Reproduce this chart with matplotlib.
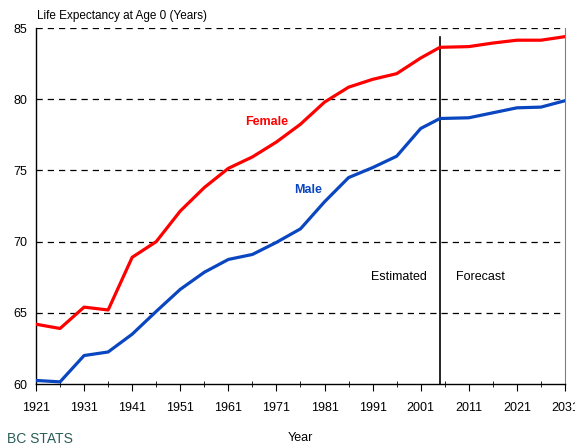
import numpy as np
import matplotlib.pyplot as plt

plt.rcParams['font.family'] = ['Liberation Sans', 'DejaVu Sans']

# Data
years = [1921, 1926, 1931, 1936, 1941, 1946, 1951, 1956, 1961, 1966, 1971, 1976,
         1981, 1986, 1991, 1996, 2001, 2005, 2011, 2016, 2021, 2026, 2031]
female = [64.2, 63.9, 65.4, 65.2, 68.9, 70.0, 72.15, 73.8, 75.15, 75.95, 77.0, 78.25,
          79.8, 80.85, 81.4, 81.8, 82.9, 83.65, 83.7, 83.95, 84.15, 84.15, 84.4]
male = [60.25, 60.15, 62.0, 62.25, 63.5, 65.1, 66.65, 67.85, 68.75, 69.1, 69.95, 70.9,
        72.8, 74.5, 75.2, 76.0, 77.95, 78.65, 78.7, 79.05, 79.4, 79.45, 79.9]
split_year = 2005
major_years = np.arange(1921, 2032, 10)
minor_years = np.arange(1926, 2032, 10)

fig = plt.figure(figsize=(5.75, 4.46), dpi=100)
ax = fig.add_axes([0.0626, 0.139, 0.92, 0.798])

for y in [65, 70, 75, 80, 85]:
    ax.axhline(y, color='black', lw=0.9, ls=(0, (5, 4)), zorder=1)

ax.plot(years, female, color='#ff0000', lw=2.3, zorder=3)
ax.plot(years, male, color='#0a46c0', lw=2.3, zorder=3)
ax.axvline(split_year, ymin=0, ymax=0.975, color='black', lw=1.2, zorder=2)

ax.text(1969, 78.4, 'Female', color='#ff0000', fontsize=9, fontweight='bold', ha='center', va='center')
ax.text(1977.5, 73.6, 'Male', color='#0a46c0', fontsize=9, fontweight='bold', ha='center', va='center')
ax.text(2002.3, 67.5, 'Estimated', fontsize=9, ha='right', va='center')
ax.text(2008.3, 67.5, 'Forecast', fontsize=9, ha='left', va='center')

ax.set_xlim(1921, 2031)
ax.set_ylim(60, 85)
ax.set_xticks(major_years)
ax.set_xticks(minor_years, minor=True)
ax.set_yticks([60, 65, 70, 75, 80, 85])
ax.tick_params(axis='x', which='major', direction='out', length=5, labelsize=9, pad=8)
ax.tick_params(axis='x', which='minor', direction='inout', length=5)
ax.tick_params(axis='y', length=0, labelsize=9, pad=6)

ax.spines['top'].set_visible(False)
ax.spines['right'].set_color('#808080')
ax.spines['left'].set_linewidth(1.0)
ax.spines['bottom'].set_linewidth(1.0)

ax.set_xlabel('Year', fontsize=9, labelpad=13)
fig.text(0.064, 0.965, 'Life Expectancy at Age 0 (Years)', fontsize=8.5, ha='left', va='center')
fig.text(0.012, 0.0, 'BC STATS', fontsize=10, color='#2b5f58', ha='left', va='bottom')

fig.savefig('out.png', dpi=100)
